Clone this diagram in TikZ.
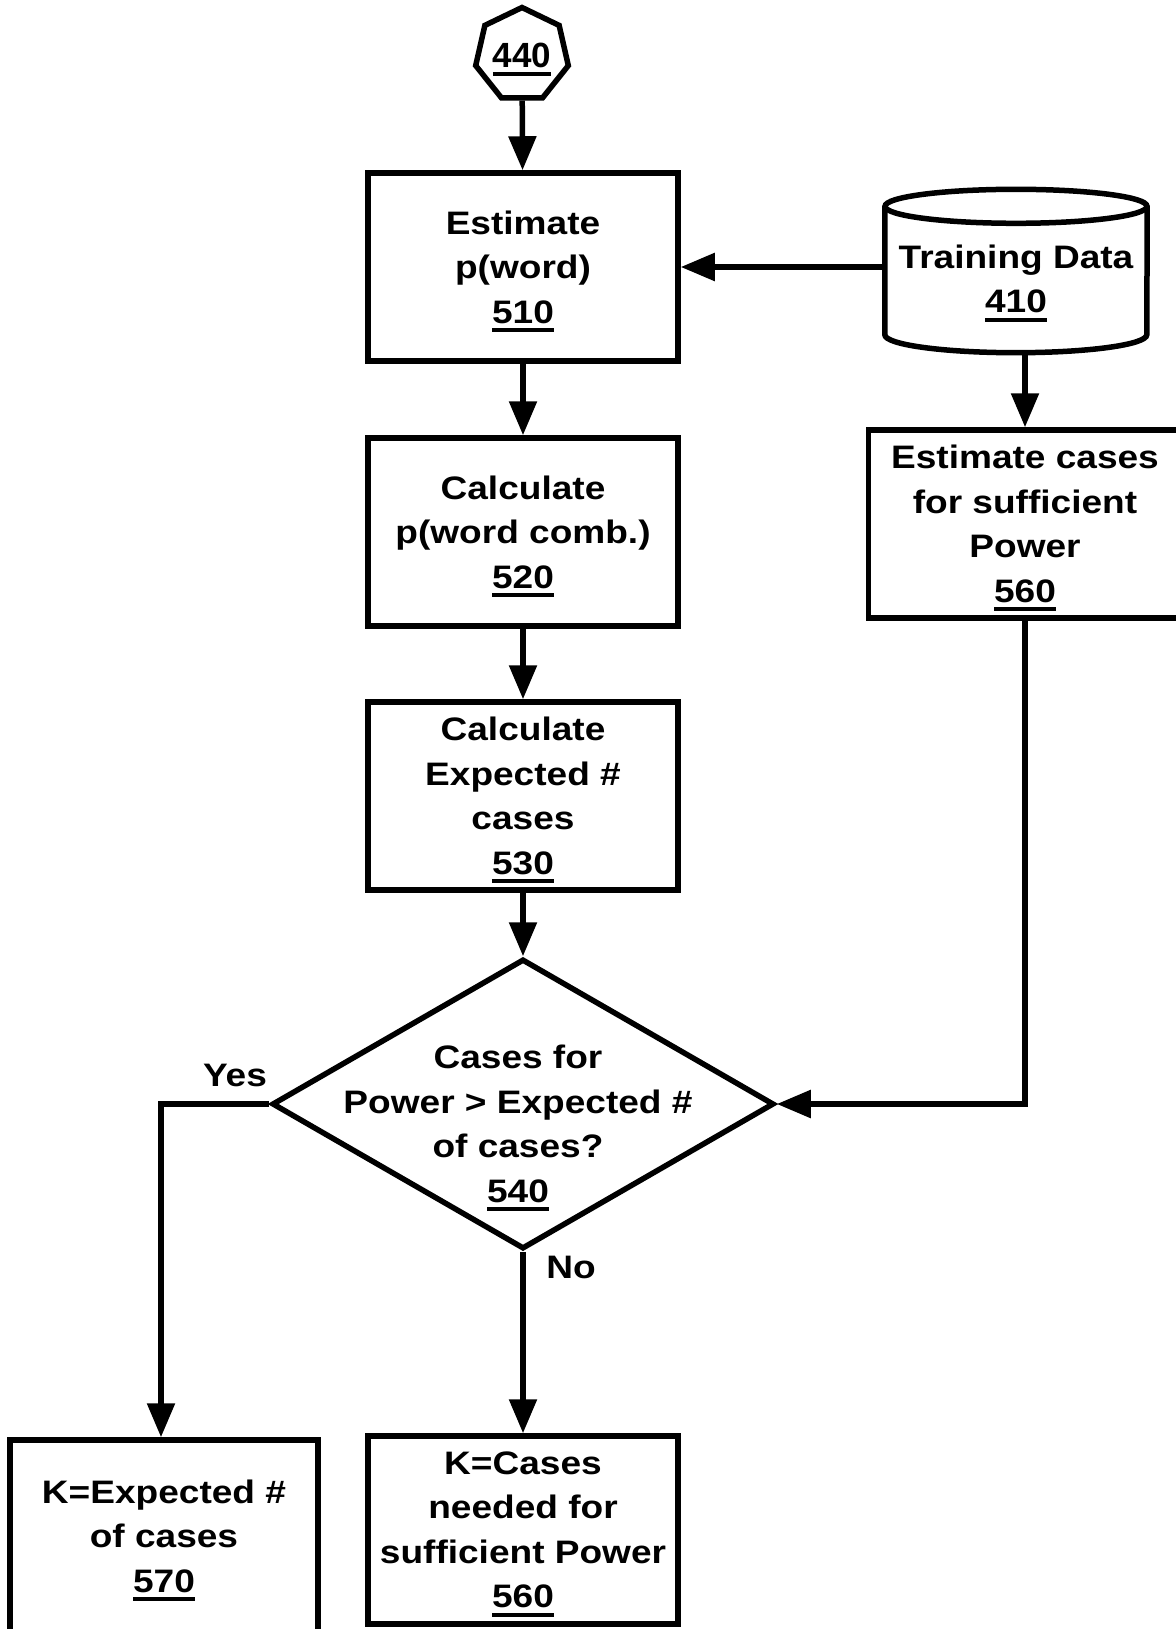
\documentclass[tikz,border=0pt]{standalone}
\usepackage{fontspec}
\setmainfont{Liberation Sans}[FakeStretch=1.14]
\newfontfamily\heptfont{Liberation Sans}
\usepackage{tikz}
\usetikzlibrary{shapes.geometric,arrows.meta,calc}

\newcommand{\refnum}[1]{\setbox0\hbox{#1}\leavevmode\rlap{\smash{\rule[-9pt]{\wd0}{4pt}}}\box0}

\tikzset{
  box/.style={draw, line width=5.5pt, minimum width=310, minimum height=188,
    inner sep=0pt, align=center, font=\bfseries\fontsize{32.5}{44.5}\selectfont},
  txt/.style={inner sep=0pt, align=center, font=\bfseries\fontsize{32.5}{44.5}\selectfont},
  decide/.style={draw, diamond, line width=5.5pt, minimum width=502, minimum height=290, inner sep=0pt},
  hept/.style={draw, regular polygon, regular polygon sides=7, line width=5.5pt,
    minimum size=95, inner sep=0pt, font=\heptfont\bfseries\fontsize{35}{40}\selectfont},
  arr/.style={line width=5.5pt, -{Triangle[length=34pt,width=27pt]}}
}

\begin{document}
\begin{tikzpicture}[x=1pt,y=-1pt]
\useasboundingbox (0,0) rectangle (1175,1629);

\node[hept] (start) at (522,55) {\refnum{440}};
\node[box] (est) at (523,267) {Estimate\\p(word)\\\refnum{510}};
\node[box] (comb) at (523,532) {Calculate\\p(word comb.)\\\refnum{520}};
\node[box] (expct) at (523,796) {Calculate\\Expected \#\\cases\\\refnum{530}};
\node[decide] (test) at (523,1104) {};
\node[txt] (testtxt) at (518,1124) {Cases for\\Power > Expected \#\\of cases?\\\refnum{540}};

\node[txt, minimum width=262, minimum height=111] (train) at (1016,279) {Training Data\\\refnum{410}};
\draw[line width=5.5pt] ($(train.north west)+(0,-17)$) -- (train.south west)
  arc[start angle=180, end angle=360, x radius=131pt, y radius=18pt]
  -- ($(train.north east)+(0,-17)$);
\draw[line width=5.5pt] ($(train.north)+(0,-17)$) ellipse[x radius=131pt, y radius=17pt];
\coordinate (trainbot) at ($(train.south)+(9,19)$);

\node[box, minimum width=313] (pow) at (1025,524) {Estimate cases\\for sufficient\\Power\\\refnum{560}};
\node[box, minimum width=308, minimum height=192] (keep) at (164,1536) {K=Expected \#\\of cases\\\refnum{570}};
\node[box] (need) at (523,1530) {K=Cases\\needed for\\sufficient Power\\\refnum{560}};

\node[txt] (yes) at (235,1075) {Yes};
\node[txt] (no) at (571,1267) {No};

\draw[arr] (start) -- (est);
\draw[arr] (est) -- (comb);
\draw[arr] (comb) -- (expct);
\draw[arr] (expct) -- (test);
\draw[arr] ([yshift=12pt]train.west) -- ([yshift=12pt]train.west -| est.east);
\draw[arr] (trainbot) -- (trainbot |- pow.north);
\draw[arr] (pow.south) |- (test.east);
\draw[arr] (test.west) -| ([xshift=-3pt]keep.north);
\draw[arr] (test.south) -- (need.north);
\end{tikzpicture}
\end{document}
